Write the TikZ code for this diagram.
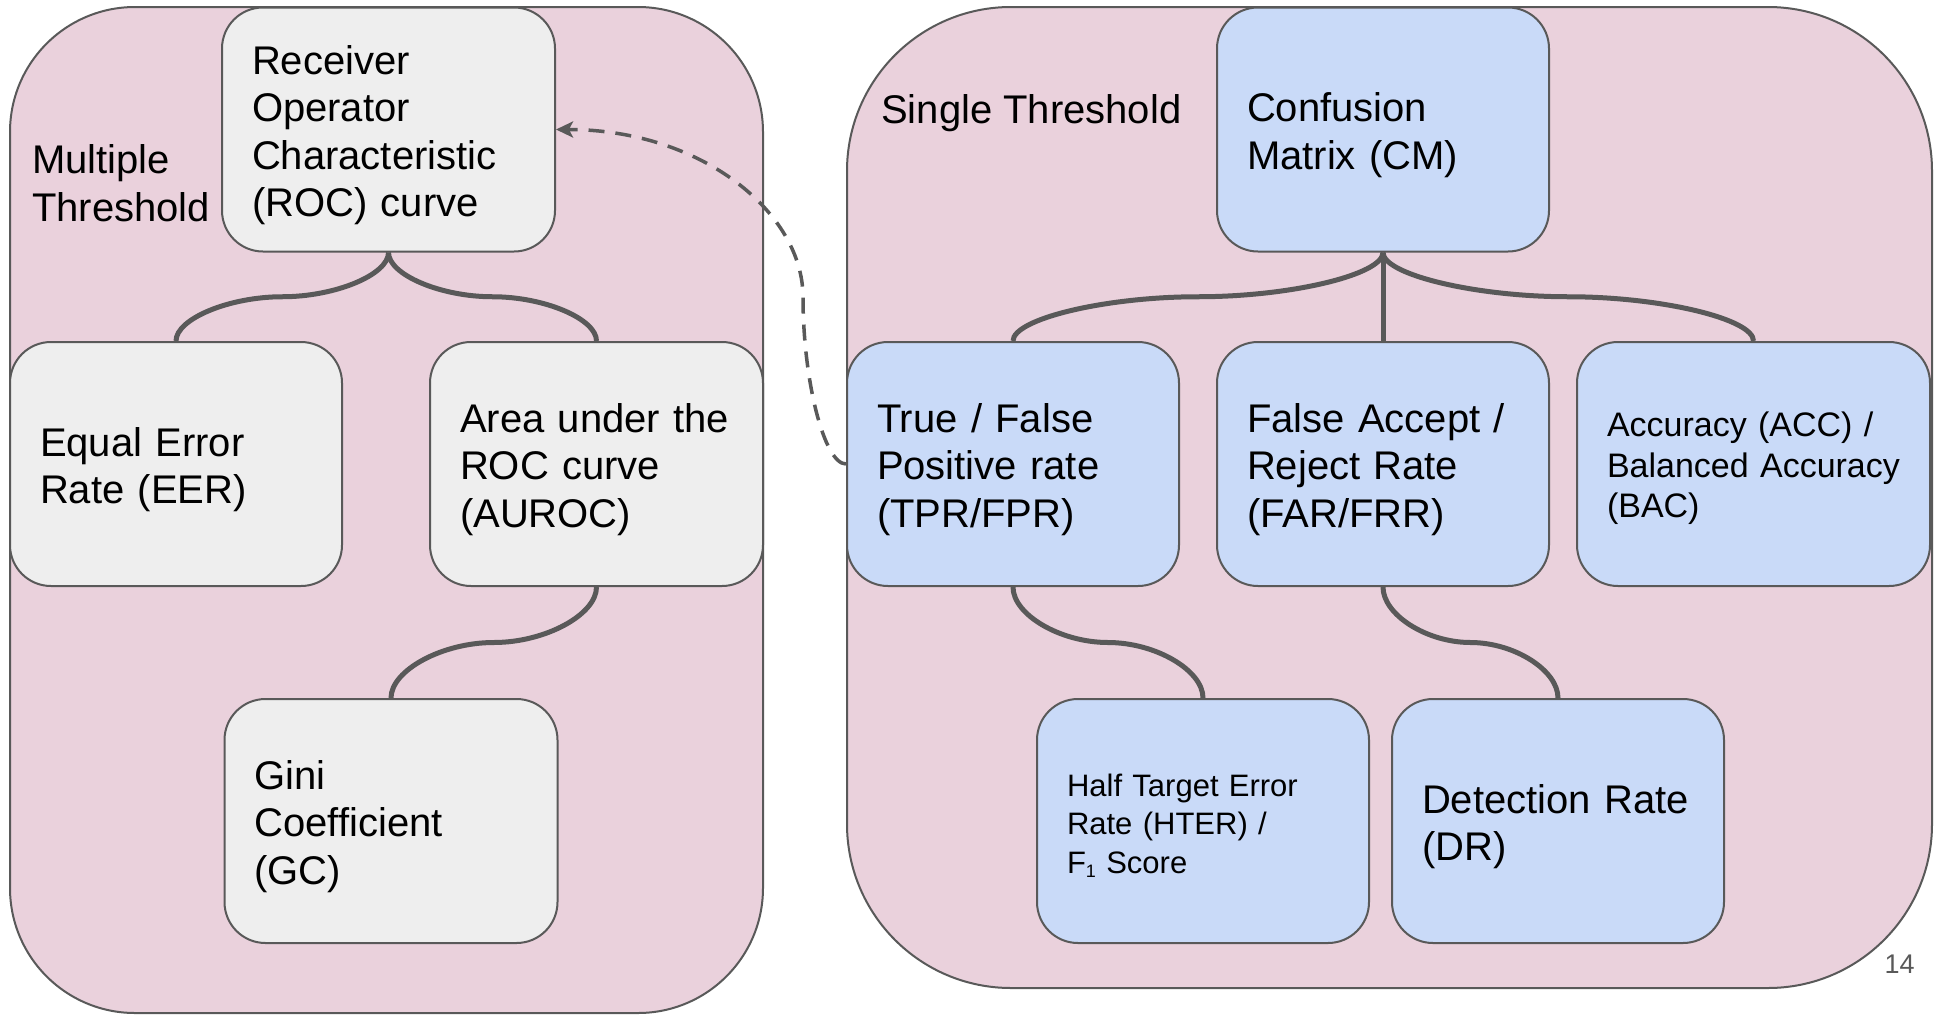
\documentclass[tikz,border=0pt]{standalone}
\usepackage{fontspec}
\setmainfont{Liberation Sans}
\usetikzlibrary{calc,arrows.meta}
\definecolor{pinkbg}{HTML}{EAD1DC}
\definecolor{graybox}{HTML}{EEEEEE}
\definecolor{bluebox}{HTML}{C9DAF8}
\definecolor{linec}{HTML}{595959}
\begin{document}
\begin{tikzpicture}[x=1pt,y=-1pt,
  bigtext/.style={font=\fontsize{40}{47.5}\selectfont},
  box/.style={draw=linec, line width=2pt, rounded corners=41pt, inner xsep=30pt, inner ysep=0pt,
              minimum height=244pt, align=left, text width=272pt, bigtext,
              execute at begin node={\rule{0pt}{1em}}},
  gbox/.style={box, fill=graybox},
  bbox/.style={box, fill=bluebox},
  container/.style={draw=linec, line width=2pt, fill=pinkbg},
  conn/.style={draw=linec, line width=5pt},
  curv/.style={to path={let \p1=(\tikztostart), \p2=(\tikztotarget) in
     .. controls (\x1,{0.75*\y1+0.25*\y2}) and ({0.75*\x1+0.25*\x2},{0.5*\y1+0.5*\y2})
     .. ({0.5*\x1+0.5*\x2},{0.5*\y1+0.5*\y2})
     .. controls ({0.25*\x1+0.75*\x2},{0.5*\y1+0.5*\y2}) and (\x2,{0.25*\y1+0.75*\y2})
     .. (\x2,\y2)}},
  darrow/.style={draw=linec, line width=3.5pt, dash pattern=on 16pt off 11pt,
                 -{Stealth[length=17pt,width=16pt,inset=4pt]}},
]
\fill[white] (0,0) rectangle (1936,1015);
\useasboundingbox (0,0) rectangle (1936,1015);

% containers
\path[container, rounded corners=125pt] (10,7) rectangle (763,1013);
\path[container, rounded corners=164pt] (847,7) rectangle (1932,988);

% labels
\node[bigtext, anchor=west, inner sep=0pt, align=left] (mt) at (32,183) {Multiple\\Threshold};
\node[bigtext, anchor=base west, inner sep=0pt] (st) at (881,123) {Single Threshold};

% left boxes
\node[gbox, text width=273pt] (roc) at (388.5,129.5) {Receiver\\Operator\\Characteristic\\(ROC) curve};
\node[gbox] (eer) at (176,464) {Equal Error\\Rate (EER)};
\node[gbox, text width=273pt] (auroc) at (596.5,464) {Area under the\\ROC curve\\(AUROC)};
\node[gbox, text width=273pt] (gc) at (391,821) {Gini\\Coefficient\\(GC)};

% right boxes
\node[bbox] (cm) at (1383,129.5) {Confusion\\Matrix (CM)};
\node[bbox] (tpr) at (1013,464) {True / False\\Positive rate\\(TPR/FPR)};
\node[bbox] (far) at (1383,464) {False Accept /\\Reject Rate\\(FAR/FRR)};
\node[bbox, text width=293pt, font=\fontsize{34}{40.5}\selectfont] (acc) at (1753.5,464) {Accuracy (ACC) /\\Balanced Accuracy\\(BAC)};
\node[bbox, font=\fontsize{31}{38.5}\selectfont] (hter) at (1203,821) {Half Target Error\\Rate (HTER) /\\F\raisebox{-4pt}{\fontsize{18}{18}\selectfont 1} Score};
\node[bbox] (dr) at (1558,821) {Detection Rate\\(DR)};

% connectors
\draw[conn] (roc.south) to[curv] (eer.north);
\draw[conn] (roc.south) to[curv] (auroc.north);
\draw[conn] (auroc.south) to[curv] (gc.north);
\draw[conn] (cm.south) to[curv] (tpr.north);
\draw[conn] (cm.south) -- (far.north);
\draw[conn] (cm.south) to[curv] (acc.north);
\draw[conn] (tpr.south) to[curv] (hter.north);
\draw[conn] (far.south) to[curv] (dr.north);

% dashed arrow
\coordinate (dmid) at (803,297);
\draw[darrow] (tpr.west) .. controls +(-22,0) and +(0,83) .. (dmid)
   .. controls +(0,-84) and +(146,0) .. (roc.east);

% page number
\node[font=\fontsize{27}{27}\selectfont, text=linec, anchor=base, inner sep=0pt] (pg) at (1899.5,973) {14};
\end{tikzpicture}
\end{document}
